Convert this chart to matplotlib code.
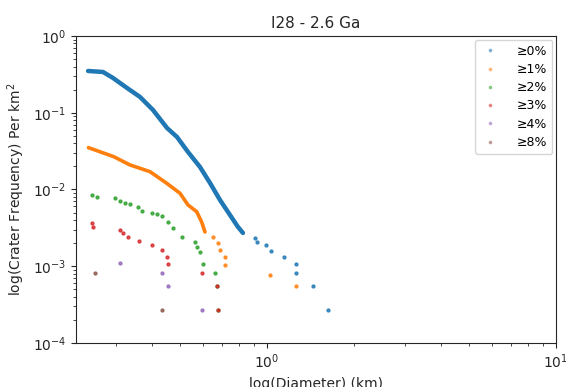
import matplotlib.pyplot as plt

# valeurs (diamètre en km, fréquence cumulée par km2)
# parties denses des courbes
d0_dense = [0.2403, 0.2707, 0.2932, 0.3278, 0.3636, 0.4032, 0.4508, 0.4882,
            0.5329, 0.5862, 0.6351, 0.6876, 0.7447, 0.7935, 0.8259]
f0_dense = [0.3499, 0.3396, 0.2836, 0.2101, 0.1604, 0.1086, 0.0633, 0.0483,
            0.0308, 0.01964, 0.01216, 0.00730, 0.00465, 0.00325, 0.00271]

d1_dense = [0.2410, 0.2947, 0.3357, 0.3936, 0.4497, 0.5000, 0.5329, 0.5710,
            0.5943, 0.6102]
f1_dense = [0.03504, 0.02676, 0.02085, 0.01706, 0.01204, 0.00892, 0.00628,
            0.00514, 0.00377, 0.00279]

# points isolés
d0 = [0.909, 0.921, 0.992, 1.030, 1.145, 1.258, 1.258, 1.443, 1.626]
f0 = [0.00233, 0.00207, 0.00189, 0.00158, 0.00132, 0.00107, 0.000816,
      0.000544, 0.000272]

d1 = [0.6503, 0.6767, 0.6876, 0.7155, 0.7155, 1.024, 1.262]
f1 = [0.00240, 0.00201, 0.00163, 0.00132, 0.00104, 0.000769, 0.000544]

d2 = [0.2473, 0.2574, 0.2979, 0.3100, 0.3226, 0.3357, 0.3587, 0.3685, 0.3990,
      0.4152, 0.4321, 0.4555, 0.4740, 0.5068, 0.5634, 0.5710, 0.5862, 0.6020,
      0.6606, 0.6698, 0.6783]
f2 = [0.00848, 0.00806, 0.00768, 0.00714, 0.00661, 0.00642, 0.00597, 0.00529,
      0.00498, 0.00475, 0.00452, 0.00381, 0.00312, 0.00243, 0.00209, 0.00180,
      0.00155, 0.00107, 0.000816, 0.000544, 0.000272]

d3 = [0.2473, 0.2493, 0.3100, 0.3183, 0.3312, 0.3615, 0.3990, 0.4321, 0.4497,
      0.4555, 0.5943, 0.6698, 0.6783]
f3 = [0.00363, 0.00327, 0.00297, 0.00269, 0.00243, 0.00215, 0.00189, 0.00163,
      0.00133, 0.00107, 0.000816, 0.000544, 0.000272]

d4 = [0.3100, 0.4321, 0.4555, 0.5943]
f4 = [0.00109, 0.000816, 0.000544, 0.000272]

d8 = [0.2539, 0.4321]
f8 = [0.000816, 0.000272]

labels = ["≥0%", "≥1%", "≥2%", "≥3%", "≥4%", "≥8%"]
colors = ["#1f77b4", "#ff7f0e", "#2ca02c", "#d62728", "#9467bd", "#8c564b"]

fig = plt.figure(figsize=(5.66, 3.87), dpi=100)
ax = fig.add_axes([0.134, 0.114, 0.848, 0.793])

ax.plot(d0_dense, f0_dense, "-", color=colors[0], lw=3.2, solid_capstyle="round",
        solid_joinstyle="round")
ax.plot(d1_dense, f1_dense, "-", color=colors[1], lw=2.6, solid_capstyle="round",
        solid_joinstyle="round")

series = [(d0, f0), (d1, f1), (d2, f2), (d3, f3), (d4, f4), (d8, f8)]
for (d, f), c, lab in zip(series, colors, labels):
    ax.plot(d, f, "o", color=c, markersize=2.1, alpha=0.8, label=lab)

ax.set_xscale("log")
ax.set_yscale("log")
ax.set_xlim(0.218, 10)
ax.set_ylim(1e-4, 1)

txt = "#262626"
ax.set_title("I28 - 2.6 Ga", fontsize=11, color=txt)
ax.set_xlabel("log(Diameter) (km)", fontsize=10, color=txt)
ax.set_ylabel("log(Crater Frequency) Per km$^2$", fontsize=10, color=txt)
ax.tick_params(which="both", direction="out", top=False, right=False,
               labelsize=10, colors=txt)
for s in ax.spines.values():
    s.set_color(txt)

leg = ax.legend(loc="upper right", fontsize=9, markerscale=0.8,
                frameon=True, handletextpad=1.3, labelspacing=0.42,
                borderaxespad=0.3, handlelength=1.6)
leg.get_frame().set_edgecolor("#cccccc")
for h in leg.legend_handles:
    h.set_alpha(0.45)

fig.savefig("out.png", dpi=100)
